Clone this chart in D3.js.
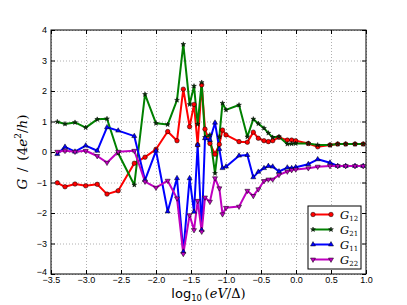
<!DOCTYPE html>
<html>
<head>
<meta charset="utf-8">
<script src="https://cdn.jsdelivr.net/npm/d3@7"></script>
<style>
body { margin: 0; background: #fff; }
svg { font-family: "DejaVu Sans", sans-serif; }
.grid line { stroke: #b0b0b0; stroke-dasharray: 1,2; }
.grid path { display: none; }
.axis path { display: none; }
.axis line { stroke: #000; }
.axis text { font-size: 9px; fill: #000; }
.math { font-family: "DejaVu Serif", "Liberation Serif", serif; }
</style>
</head>
<body>
<svg id="chart" width="407" height="305"></svg>
<script>
// shared sample positions, log10(eV/Delta)
var xs = [-3.41, -3.30, -3.157, -3.004, -2.84, -2.70, -2.54, -2.31, -2.157, -2.0,
          -1.833, -1.70, -1.61, -1.52, -1.457, -1.405, -1.347, -1.30, -1.23, -1.157,
          -1.095, -1.05, -1.0, -0.814, -0.695, -0.61, -0.538, -0.457, -0.395, -0.333,
          -0.243, -0.124, -0.062, -0.004, 0.176, 0.31, 0.486, 0.596, 0.71, 0.843, 0.96];

var g12 = [-1.01, -1.14, -1.05, -1.11, -1.06, -1.38, -1.27, -0.37, -0.17, 0.09,
           0.67, 0.37, 2.06, 0.83, 1.56, 0.23, 2.20, 0.75, 0.28, -0.07,
           0.25, 0.72, 0.56, 0.34, 0.32, 0.65, 0.45, 0.37, 0.34, 0.37,
           0.48, 0.39, 0.39, 0.37, 0.28, 0.17, 0.23, 0.26, 0.26, 0.26, 0.26];
var g21 = [0.99, 0.92, 0.97, 0.80, 1.07, 1.09, -0.04, -1.08, 1.89, 0.94,
           0.90, 1.70, 3.53, 1.56, 2.16, 0.91, 2.28, 0.48, 0.56, -0.70,
           0.50, 1.60, 1.38, 1.54, 0.50, 1.08, 0.93, 0.78, 0.62, 0.48,
           0.50, 0.26, 0.27, 0.28, 0.28, 0.23, 0.23, 0.26, 0.26, 0.26, 0.26];
var g11 = [-0.07, 0.17, 0.01, 0.21, 0.04, 0.81, 0.70, 0.52, -0.92, 0.04,
           -1.95, -0.86, -3.27, -0.86, -1.96, 0.23, -2.56, 0.45, 0.39, 0.96,
           0.10, -0.53, -0.48, -0.12, -0.10, -0.83, -0.65, -0.53, -0.46, -0.48,
           -0.64, -0.51, -0.53, -0.50, -0.40, -0.24, -0.35, -0.46, -0.46, -0.46, -0.46];
var g22 = [0.01, 0.04, 0.01, 0.04, -0.13, -0.35, 0.01, 0.04, -0.97, -1.17,
           -0.94, -1.52, -3.34, -2.07, -2.56, -1.60, -2.61, -1.49, -1.63, -0.86,
           -1.19, -2.04, -1.83, -1.79, -1.27, -1.44, -1.22, -0.95, -0.90, -0.90,
           -0.75, -0.64, -0.59, -0.57, -0.53, -0.48, -0.46, -0.46, -0.46, -0.46, -0.46];

var xTicks = [-3.5, -3.0, -2.5, -2.0, -1.5, -1.0, -0.5, 0.0, 0.5, 1.0];
var yTicks = [-4, -3, -2, -1, 0, 1, 2, 3, 4];

var seriesNames = ["12", "21", "11", "22"];
var seriesVals = [g12, g21, g11, g22];
var seriesColors = ["#ff0000", "#008000", "#0000ff", "#bf00bf"];
var seriesSymbols = [d3.symbolCircle, d3.symbolStar, d3.symbolTriangle, d3.symbolTriangle];
var seriesSizes = [16, 7, 11, 11];

var svg = d3.select("#chart"),
    margin = {top: 30, right: 41, bottom: 31, left: 51},
    width = +svg.attr("width") - margin.left - margin.right,
    height = +svg.attr("height") - margin.top - margin.bottom;

var x = d3.scaleLinear().domain([-3.5, 1.0]).range([0, width]);
var y = d3.scaleLinear().domain([-4, 4]).range([height, 0]);

var g = svg.append("g")
    .attr("transform", "translate(" + margin.left + "," + margin.top + ")");

var fmt = function(d) { return d3.format(".1f")(d).replace("-", "\u2212"); };
var fmtY = function(d) { return String(d).replace("-", "\u2212"); };

// grid
g.append("g").attr("class", "grid")
    .attr("transform", "translate(0," + height + ")")
    .call(d3.axisBottom(x).tickValues(xTicks).tickSize(-height).tickFormat(""));
g.append("g").attr("class", "grid")
    .call(d3.axisLeft(y).tickValues(yTicks).tickSize(-width).tickFormat(""));

// axes with inward ticks
g.append("g").attr("class", "axis")
    .attr("transform", "translate(0," + height + ")")
    .call(d3.axisBottom(x).tickValues(xTicks).tickSizeInner(-4).tickPadding(3).tickFormat(fmt));
g.append("g").attr("class", "axis")
    .call(d3.axisTop(x).tickValues(xTicks).tickSizeInner(-4).tickFormat(""));
var yAxis = g.append("g").attr("class", "axis")
    .call(d3.axisLeft(y).tickValues(yTicks).tickSizeInner(-4).tickPadding(4).tickFormat(fmtY));
// bottom y label sits a bit higher so it clears the x labels
yAxis.selectAll(".tick text").filter(function(d) { return d === -4; }).attr("dy", "0.05em");
g.append("g").attr("class", "axis")
    .attr("transform", "translate(" + width + ",0)")
    .call(d3.axisRight(y).tickValues(yTicks).tickSizeInner(-4).tickFormat(""));

// lines
var line = d3.line()
    .x(function(d) { return x(d[0]); })
    .y(function(d) { return y(d[1]); });

seriesVals.forEach(function(vals, i) {
    var pts = xs.map(function(v, j) { return [v, vals[j]]; });
    g.append("path")
        .datum(pts)
        .attr("fill", "none")
        .attr("stroke", seriesColors[i])
        .attr("stroke-width", 2)
        .attr("stroke-linejoin", "round")
        .attr("d", line);
});

function marker(sel, i) {
    sel.attr("d", d3.symbol().type(seriesSymbols[i]).size(seriesSizes[i]))
        .attr("fill", i === 1 ? "#0a3a0a" : seriesColors[i])
        .attr("stroke", "#000")
        .attr("stroke-width", 0.5);
}

seriesVals.forEach(function(vals, i) {
    g.selectAll(".m" + i)
        .data(xs.map(function(v, j) { return [v, vals[j]]; }))
        .enter().append("path")
        .attr("class", "m" + i)
        .attr("transform", function(d) {
            return "translate(" + x(d[0]) + "," + y(d[1]) + ")" + (i === 3 ? " rotate(180)" : "");
        })
        .call(marker, i);
});

// frame
g.append("rect")
    .attr("width", width).attr("height", height)
    .attr("fill", "none").attr("stroke", "#000").attr("stroke-width", 1);

// legend
var lg = svg.append("g").attr("transform", "translate(308,206)");
lg.append("rect").attr("width", 53).attr("height", 63)
    .attr("fill", "#fff").attr("stroke", "#000").attr("stroke-width", 1);
seriesNames.forEach(function(n, i) {
    var ly = 8.5 + i * 15;
    lg.append("line").attr("x1", 5).attr("x2", 23).attr("y1", ly).attr("y2", ly)
        .attr("stroke", seriesColors[i]).attr("stroke-width", 2);
    [5, 23].forEach(function(mx) {
        lg.append("path")
            .attr("transform", "translate(" + mx + "," + ly + ")" + (i === 3 ? " rotate(180)" : ""))
            .call(marker, i);
    });
    var t = lg.append("text").attr("class", "math").attr("x", 32).attr("y", ly + 4)
        .attr("font-size", 11.5);
    t.append("tspan").attr("font-style", "italic").text("G");
    t.append("tspan").attr("font-size", 7).attr("dy", 2).text(n);
});

// axis labels
var xl = svg.append("text")
    .attr("x", margin.left + width / 2).attr("y", 298)
    .attr("text-anchor", "middle").attr("font-size", 13);
xl.append("tspan").text("log");
xl.append("tspan").attr("font-size", 8.5).attr("dy", 3).text("10");
xl.append("tspan").attr("class", "math").attr("dy", -3).text("\u2009(");
xl.append("tspan").attr("class", "math").attr("font-style", "italic").text("eV");
xl.append("tspan").attr("class", "math").text("/\u0394)");

var yl = svg.append("text")
    .attr("class", "math")
    .attr("transform", "translate(27," + (margin.top + height / 2) + ") rotate(-90)")
    .attr("text-anchor", "middle").attr("font-size", 13.5);
yl.append("tspan").attr("font-style", "italic").text("G");
yl.append("tspan").text("\u2002/\u2002(4");
yl.append("tspan").attr("font-style", "italic").text("e");
yl.append("tspan").attr("font-size", 9).attr("dy", -6).text("2");
yl.append("tspan").attr("dy", 6).text("/");
yl.append("tspan").attr("font-style", "italic").text("h");
yl.append("tspan").text(")");
</script>
</body>
</html>
